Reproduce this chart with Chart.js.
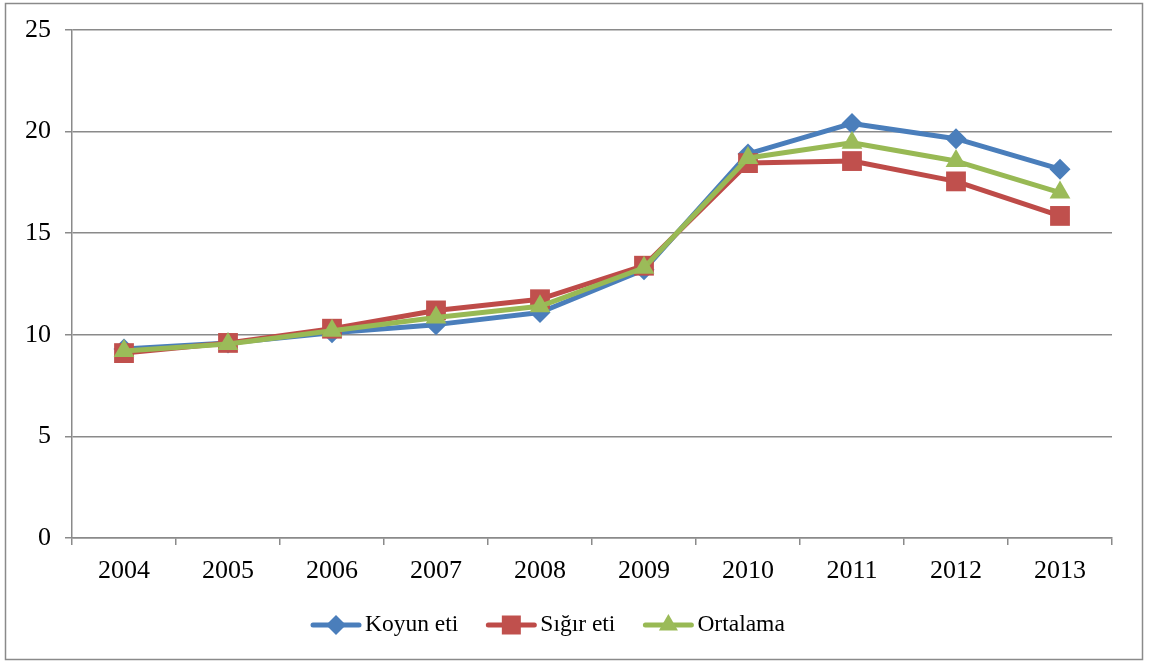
<!DOCTYPE html>
<html>
<head>
<meta charset="utf-8">
<script src="https://cdn.jsdelivr.net/npm/chart.js@4/dist/chart.umd.min.js"></script>
<style>
html,body{margin:0;padding:0;background:#fff;}
#wrap{width:1150px;height:664px;position:relative;}
</style>
</head>
<body>
<div id="wrap"><canvas id="c" width="1150" height="664"></canvas></div>
<script>
const years = ['2004','2005','2006','2007','2008','2009','2010','2011','2012','2013'];
const koyunEti = [9.3, 9.6, 10.1, 10.5, 11.1, 13.2, 18.9, 20.4, 19.65, 18.15];
const sigirEti = [9.1, 9.6, 10.3, 11.2, 11.75, 13.4, 18.45, 18.55, 17.55, 15.85];
const ortalama = [9.2, 9.55, 10.2, 10.85, 11.4, 13.3, 18.7, 19.45, 18.55, 17.0];
const seriesNames = ['Koyun eti', 'Sığır eti', 'Ortalama'];
const yTicks = [0, 5, 10, 15, 20, 25];

const FONT = "'Liberation Serif', 'Times New Roman', serif";
const GRID = '#8a8a8a';

const frame = {
  id: 'frame',
  beforeDraw(chart) {
    const ctx = chart.ctx;
    ctx.save();
    ctx.fillStyle = '#fff';
    ctx.fillRect(0, 0, chart.width, chart.height);
    ctx.strokeStyle = '#8a8a8a';
    ctx.lineWidth = 1.5;
    ctx.strokeRect(5.5, 3.5, 1137, 656);
    ctx.restore();
  }
};

function drawMarker(ctx, style, x, y, color) {
  ctx.fillStyle = color;
  ctx.beginPath();
  if (style === 'rectRot') {
    const r = 10;
    ctx.moveTo(x, y - r); ctx.lineTo(x + r, y); ctx.lineTo(x, y + r); ctx.lineTo(x - r, y);
  } else if (style === 'rect') {
    const s = 9.5;
    ctx.rect(x - s, y - s, 2 * s, 2 * s);
  } else {
    const r = 11;
    ctx.moveTo(x, y - r);
    ctx.lineTo(x + r * 0.866, y + r * 0.5);
    ctx.lineTo(x - r * 0.866, y + r * 0.5);
  }
  ctx.closePath();
  ctx.fill();
}

const customLegend = {
  id: 'customLegend',
  afterDraw(chart) {
    const ctx = chart.ctx;
    ctx.save();
    ctx.font = '23.5px ' + FONT;
    ctx.textBaseline = 'middle';
    ctx.textAlign = 'left';
    const cy = 625;
    let x = 311;
    chart.data.datasets.forEach((ds) => {
      ctx.strokeStyle = ds.borderColor;
      ctx.lineWidth = 5;
      ctx.lineCap = 'round';
      ctx.beginPath();
      ctx.moveTo(x + 2, cy);
      ctx.lineTo(x + 48, cy);
      ctx.stroke();
      drawMarker(ctx, ds.pointStyle, x + 25, cy, ds.pointBackgroundColor);
      x += 54;
      ctx.fillStyle = '#000';
      ctx.fillText(ds.label, x, cy);
      x += ctx.measureText(ds.label).width + 28;
    });
    ctx.restore();
  }
};

new Chart(document.getElementById('c'), {
  type: 'line',
  data: {
    labels: years,
    datasets: [
      {
        label: seriesNames[0], data: koyunEti,
        borderColor: '#4A7EBB', backgroundColor: '#4A7EBB',
        pointBackgroundColor: '#4A7EBB', pointBorderColor: '#4A7EBB',
        pointStyle: 'rectRot', pointRadius: 10.5, pointBorderWidth: 0,
        borderWidth: 5, order: 2
      },
      {
        label: seriesNames[1], data: sigirEti,
        borderColor: '#BE4B48', backgroundColor: '#C0504D',
        pointBackgroundColor: '#C0504D', pointBorderColor: '#C0504D',
        pointStyle: 'rect', pointRadius: 14, pointBorderWidth: 0,
        borderWidth: 5, order: 1
      },
      {
        label: seriesNames[2], data: ortalama,
        borderColor: '#98B954', backgroundColor: '#9BBB59',
        pointBackgroundColor: '#9BBB59', pointBorderColor: '#9BBB59',
        pointStyle: 'triangle', pointRadius: 12, pointBorderWidth: 0,
        borderWidth: 5, order: 0
      }
    ]
  },
  options: {
    responsive: false,
    animation: false,
    devicePixelRatio: 1,
    layout: { padding: { top: 30, right: 38, bottom: 76, left: 0 } },
    plugins: {
      legend: { display: false },
      tooltip: { enabled: false }
    },
    elements: { line: { tension: 0, borderJoinStyle: 'round', borderCapStyle: 'round' } },
    scales: {
      x: {
        offset: true,
        grid: { offset: true, drawOnChartArea: false, drawTicks: true, tickLength: 7, color: GRID, lineWidth: 1.5 },
        border: { color: GRID, width: 1.5 },
        ticks: { color: '#000', font: { family: FONT, size: 26 }, padding: 11, maxRotation: 0 },
        afterFit(scale) { scale.height = 50; }
      },
      y: {
        min: 0, max: 25,
        afterBuildTicks(scale) { scale.ticks = yTicks.map(v => ({ value: v })); },
        grid: { color: GRID, lineWidth: 1.5, tickLength: 7 },
        border: { color: GRID, width: 1.5 },
        ticks: { color: '#000', font: { family: FONT, size: 26 }, padding: 14 },
        afterFit(scale) { scale.width = 72; }
      }
    }
  },
  plugins: [frame, customLegend]
});
</script>
</body>
</html>
